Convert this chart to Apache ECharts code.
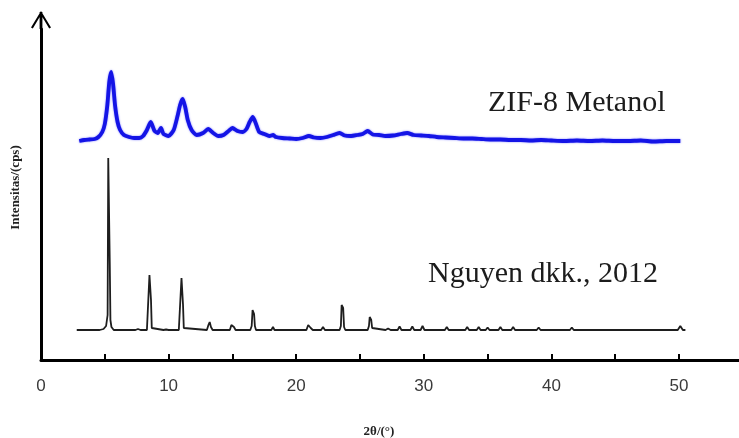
<!DOCTYPE html>
<html>
<head>
<meta charset="utf-8">
<script src="https://cdn.jsdelivr.net/npm/echarts@6/dist/echarts.min.js"></script>
<style>
  html, body { margin: 0; padding: 0; background: #fff; }
  #chart { width: 739px; height: 438px; }
</style>
</head>
<body>
<div id="chart"></div>
<script>
// Series names shown as in-plot annotations
const seriesNames = ['ZIF-8 Metanol', 'Nguyen dkk., 2012'];

// ZIF-8 synthesised in methanol: [2θ (°), intensity (cps, offset trace)]
const metanolPattern = [
  [3.0, 219], [3.4, 220], [3.8, 220.5], [4.2, 221], [4.5, 223], [4.8, 228], [5.0, 236],
  [5.2, 255], [5.35, 278], [5.5, 288], [5.65, 276], [5.8, 255], [6.0, 238], [6.2, 230],
  [6.5, 225], [6.9, 223], [7.3, 222], [7.7, 222], [8.0, 224], [8.3, 230], [8.6, 238],
  [8.9, 229], [9.15, 227], [9.4, 232], [9.6, 226], [10.0, 224], [10.4, 230], [10.7, 244],
  [10.9, 255], [11.1, 261], [11.3, 253], [11.5, 240], [11.8, 230], [12.2, 225], [12.7, 227],
  [13.1, 231], [13.5, 227], [13.9, 224], [14.3, 225], [14.7, 229], [15.0, 232], [15.4, 229],
  [15.8, 228], [16.1, 231], [16.35, 238], [16.6, 243], [16.85, 236], [17.1, 228], [17.5, 226],
  [17.9, 224], [18.2, 225], [18.4, 223], [18.9, 222], [19.5, 221.5], [20.0, 221], [20.5, 222],
  [21.0, 224], [21.4, 222.5], [21.9, 222], [22.4, 223], [22.9, 225], [23.4, 227], [23.8, 224.5],
  [24.3, 224], [24.8, 225], [25.2, 226], [25.6, 229], [26.0, 225.5], [26.5, 225], [27.0, 224],
  [27.6, 224.5], [28.2, 226], [28.7, 227], [29.2, 225], [29.8, 224.5], [30.4, 224], [31.0, 223],
  [31.7, 222.5], [32.4, 222], [33.1, 221.5], [33.8, 221.5], [34.5, 221], [35.2, 220.5], [36.0, 220.5],
  [36.8, 220], [37.6, 220], [38.4, 219.5], [39.2, 220], [40.0, 219.5], [41.0, 219], [42.0, 219.5],
  [43.0, 219], [44.0, 219.5], [45.0, 219], [46.0, 219], [47.0, 219.5], [48.0, 218.5], [49.0, 219],
  [50.1, 219]
];

// Reference pattern (Nguyen dkk., 2012): [2θ (°), intensity (cps)]
const referencePattern = [
  [2.8, 30], [4.6, 30], [4.9, 31], [5.1, 34], [5.22, 45], [5.27, 202], [5.34, 200], [5.39, 96], [5.44, 40],
  [5.52, 33], [5.7, 30], [7.4, 30], [7.6, 31], [7.8, 30],
  [8.3, 30], [8.43, 32], [8.5, 85], [8.57, 84], [8.62, 60], [8.68, 32], [8.8, 30],
  [9.6, 30], [9.8, 30.5], [10.0, 30],
  [10.8, 30], [10.94, 32], [11.01, 82], [11.08, 81], [11.13, 55], [11.19, 32], [11.3, 30],
  [13.0, 30], [13.12, 35], [13.22, 38], [13.32, 33], [13.45, 30],
  [14.8, 30], [14.92, 35], [15.02, 37], [15.12, 33], [15.25, 30],
  [16.4, 30], [16.51, 34], [16.58, 50], [16.65, 49], [16.7, 46], [16.76, 34], [16.85, 30],
  [18.05, 30], [18.18, 33], [18.3, 30],
  [20.8, 30], [20.94, 35], [21.04, 37], [21.14, 32], [21.3, 30],
  [21.95, 30], [22.1, 33], [22.25, 30],
  [23.4, 30], [23.5, 34], [23.56, 55], [23.63, 54], [23.68, 52], [23.75, 33], [23.85, 30],
  [24.5, 30], [24.6, 31.5], [24.7, 30],
  [25.6, 30], [25.7, 34], [25.76, 43], [25.83, 42], [25.88, 40], [25.95, 32], [26.05, 30],
  [27.0, 30], [27.2, 31.5], [27.4, 30],
  [27.95, 30], [28.1, 33.5], [28.25, 30],
  [28.95, 30], [29.1, 33.5], [29.25, 30],
  [29.75, 30], [29.9, 34], [30.05, 30],
  [30.5, 30], [30.6, 32], [30.7, 30],
  [31.65, 30], [31.8, 33], [31.95, 30],
  [32.4, 30], [32.5, 32], [32.6, 30],
  [33.25, 30], [33.4, 33], [33.55, 30],
  [34.15, 30], [34.3, 33], [34.45, 30],
  [34.85, 30], [35.0, 32.5], [35.15, 30],
  [35.85, 30], [36.0, 33], [36.15, 30],
  [36.85, 30], [37.0, 33], [37.15, 30],
  [37.9, 30], [38.0, 32], [38.1, 30],
  [38.85, 30], [39.0, 32.5], [39.15, 30],
  [39.9, 30], [40.0, 32], [40.1, 30],
  [41.45, 30], [41.6, 32.5], [41.75, 30],
  [42.9, 30], [43.0, 32], [43.1, 30],
  [43.9, 30], [44.0, 32], [44.1, 30],
  [44.9, 30], [45.0, 32], [45.1, 30],
  [45.9, 30], [46.0, 32], [46.1, 30],
  [46.9, 30], [47.0, 32], [47.1, 30],
  [47.9, 30], [48.0, 32], [48.1, 30],
  [48.9, 30], [49.0, 32], [49.1, 30],
  [49.9, 30], [50.1, 34], [50.3, 30], [50.5, 30]
];

const chart = echarts.init(document.getElementById('chart'), null, { renderer: 'canvas' });

// open chevron with a stem, used as the arrow head of the intensity axis
const arrowHead = 'path://M10,0 L20,16.4 L18.2,17.6 L10,3.8 L1.8,17.6 L0,16.4 Z M8.6,1 L11.4,1 L11.4,18 L8.6,18 Z';

const serif = '"Liberation Serif", "Times New Roman", serif';

chart.setOption({
  animation: false,
  backgroundColor: '#ffffff',
  grid: { left: 41, right: 0, top: 29, bottom: 78, containLabel: false, outerBoundsMode: 'none' },
  xAxis: {
    type: 'value',
    min: 0,
    max: 54.7,
    interval: 5,
    name: '2θ/(°)',
    nameLocation: 'middle',
    nameGap: 65,
    nameTextStyle: { fontFamily: serif, fontSize: 13, fontWeight: 'bold', color: '#222', padding: [0, 22, 0, 0] },
    axisLine: { lineStyle: { color: '#000', width: 3 } },
    axisTick: { inside: true, length: 6, lineStyle: { color: '#000', width: 2 } },
    axisLabel: {
      margin: 18,
      fontFamily: '"Liberation Sans", Arial, sans-serif',
      fontSize: 17,
      color: '#3a3a3a',
      showMaxLabel: false,
      formatter: function (v) { return (v % 10 === 0 && v <= 50) ? String(v) : ''; }
    },
    splitLine: { show: false }
  },
  yAxis: {
    type: 'value',
    min: 0,
    max: 331,
    name: 'Intensitas/(cps)',
    nameLocation: 'middle',
    nameGap: 19,
    nameTextStyle: { fontFamily: serif, fontSize: 13, fontWeight: 'bold', color: '#222', padding: [0, 0, 0, 14] },
    axisLine: {
      show: true,
      symbol: ['none', arrowHead],
      symbolSize: [20, 18],
      symbolOffset: [0, 9],
      lineStyle: { color: '#000', width: 3 }
    },
    axisTick: { show: false },
    axisLabel: { show: false },
    splitLine: { show: false }
  },
  series: [
    {
      name: seriesNames[0],
      type: 'line',
      data: metanolPattern,
      showSymbol: false,
      smooth: 0.2,
      lineStyle: { color: '#1414e6', width: 3.8, shadowColor: 'rgba(40,40,255,0.6)', shadowBlur: 2 },
      z: 3
    },
    {
      name: seriesNames[1],
      type: 'line',
      data: referencePattern,
      showSymbol: false,
      lineStyle: { color: '#1e1e1e', width: 1.8 },
      z: 2
    }
  ],
  graphic: [
    {
      type: 'text',
      left: 488,
      top: 88,
      style: { text: seriesNames[0], font: '30px ' + serif, fill: '#1c1c1c' }
    },
    {
      type: 'text',
      left: 428,
      top: 259,
      style: { text: seriesNames[1], font: '30px ' + serif, fill: '#1c1c1c' }
    }
  ]
});
</script>
</body>
</html>
